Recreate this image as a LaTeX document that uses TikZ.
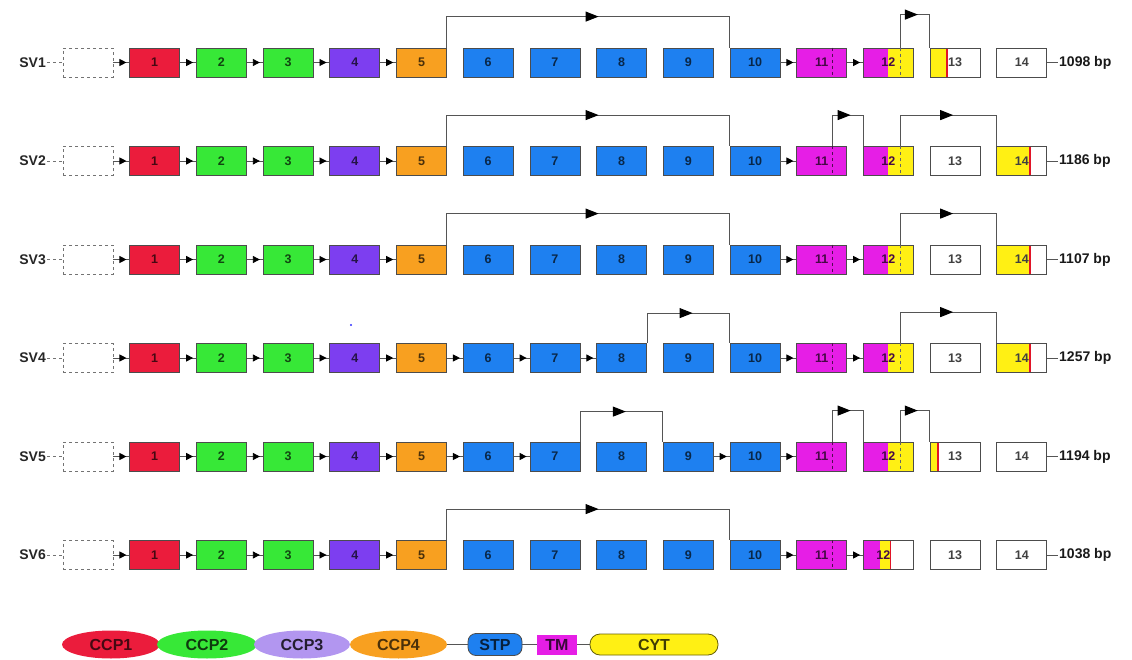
\documentclass[tikz,border=0pt]{standalone}
\usepackage{fontspec}
\setmainfont{Liberation Sans}
\usetikzlibrary{arrows.meta,decorations.markings,shapes.geometric,calc}
\definecolor{cred}{RGB}{235,28,60}
\definecolor{cgreen}{RGB}{55,232,55}
\definecolor{cpurple}{RGB}{125,62,240}
\definecolor{corange}{RGB}{248,160,32}
\definecolor{cblue}{RGB}{30,128,240}
\definecolor{cmag}{RGB}{230,30,230}
\definecolor{cyel}{RGB}{255,240,20}
\definecolor{clav}{RGB}{178,150,240}
\definecolor{cline}{RGB}{85,85,85}
\definecolor{credline}{RGB}{225,20,40}
\begin{document}
\begin{tikzpicture}[x=1pt,y=-1pt,
  exon/.style={draw=black!70, line width=0.8pt, minimum width=50pt, minimum height=29pt,
    inner sep=0pt, font=\fontsize{12.5}{12.5}\selectfont\bfseries},
  ghost/.style={draw=black!55, dashed, line width=0.8pt, minimum width=50pt, minimum height=29pt, inner sep=0pt},
  plain/.style={},
  s12a/.style={fill=cmag, text=cmag!30!black,
    path picture={\fill[cyel] ([xshift=25pt]path picture bounding box.north west) rectangle (path picture bounding box.south east);}},
  s12b/.style={fill=white, text=cmag!30!black,
    path picture={\fill[cmag] (path picture bounding box.north west) rectangle ([xshift=17pt]path picture bounding box.south west);
      \fill[cyel] ([xshift=17pt]path picture bounding box.north west) rectangle ([xshift=27pt]path picture bounding box.south west);
      \fill[credline] ([xshift=26.2pt]path picture bounding box.north west) rectangle ([xshift=27.8pt]path picture bounding box.south west);}},
  yelleft/.style={path picture={\fill[cyel] (path picture bounding box.north west) rectangle ([xshift=#1]path picture bounding box.south west);
      \fill[credline] ([xshift=#1-0.8pt]path picture bounding box.north west) rectangle ([xshift=#1+0.8pt]path picture bounding box.south west);}},
  s13a/.style={yelleft=17pt},
  s13b/.style={yelleft=8pt},
  s14a/.style={yelleft=33pt},
  conn/.style={draw=cline, line width=0.9pt, postaction={decorate},
    decoration={markings, mark=at position 0.82 with {\arrow[black]{Triangle[length=7pt,width=7pt]}}}},
  skipline/.style={draw=cline, line width=1pt, postaction={decorate},
    decoration={markings, mark=at position 0.53 with {\arrow[black]{Triangle[length=13pt,width=10pt]}}}},
  svlab/.style={font=\fontsize{14}{14}\selectfont\bfseries, inner sep=1pt, text=black!85},
  bplab/.style={font=\fontsize{14}{14}\selectfont\bfseries, inner sep=1pt, text=black!90},
  inner/.style={dashed, draw=black!60, line width=0.8pt},
  leg/.style={inner sep=0pt, font=\fontsize{16}{16}\selectfont\bfseries},
  legline/.style={draw=cline, line width=1pt}
]
\useasboundingbox (0,0) rectangle (1132,660);

\foreach \r/\y/\bp/\sA/\sB/\sC in {1/62.5/1098/s12a/s13a/plain, 2/161/1186/s12a/plain/s14a,
  3/259.5/1107/s12a/plain/s14a, 4/358/1257/s12a/plain/s14a, 5/456.5/1194/s12a/s13b/plain,
  6/555/1038/s12b/plain/plain} {
  \node[ghost] (r\r-0) at (88,\y) {};
  \node[svlab, anchor=east] (r\r-sv) at (47,\y) {SV\r};
  \draw[dashed, draw=black!55, line width=0.8pt] (r\r-sv.east) -- (r\r-0.west);
  \foreach \i/\c in {1/cred,2/cgreen,3/cgreen,4/cpurple,5/corange,6/cblue,7/cblue,8/cblue,9/cblue,10/cblue,11/cmag} {
    \node[exon, fill=\c, text=\c!30!black] (r\r-\i) at ({88+66.7*\i},\y) {\i};
  }
  \node[exon, \sA] (r\r-12) at ({88+66.7*12},\y) {};
  \node[exon, fill=white, text=black!75, \sB] (r\r-13) at ({88+66.7*13},\y) {13};
  \node[exon, fill=white, text=black!75, \sC] (r\r-14) at ({88+66.7*14},\y) {14};
  \node[bplab, anchor=west] (r\r-bp) at (1058,\y) {\bp\ bp};
  \draw[draw=cline, line width=0.9pt] (r\r-14.east) -- (r\r-bp.west);
  \coordinate (r\r-11d) at ([xshift=11pt]r\r-11.north);
  \draw[inner, draw=cmag!35!black] (r\r-11d) -- ([xshift=11pt]r\r-11.south);
  \foreach \a/\b in {0/1,1/2,2/3,3/4,4/5,10/11} {
    \draw[conn] (r\r-\a.east) -- (r\r-\b.west);
  }
}
% labels of box 12
\foreach \r in {1,...,5} {
  \node[font=\fontsize{12.5}{12.5}\selectfont\bfseries, text=cmag!30!black, inner sep=0pt] (r\r-12t) at (r\r-12.center) {12};
  \coordinate (r\r-12d) at ([xshift=12pt]r\r-12.north);
  \draw[inner, draw=black!60] (r\r-12d) -- ([xshift=12pt]r\r-12.south);
}
\node[font=\fontsize{12.5}{12.5}\selectfont\bfseries, text=cmag!30!black, inner sep=0pt] (r6-12t) at ([xshift=-5pt]r6-12.center) {12};

% SV1
\draw[skipline] (r1-5.north east) -- ++(0,-31) -| (r1-10.north west);
\draw[conn] (r1-11.east) -- (r1-12.west);
\draw[skipline] (r1-12d) -- ++(0,-33) -| (r1-13.north west);
% SV2
\draw[skipline] (r2-5.north east) -- ++(0,-31) -| (r2-10.north west);
\draw[skipline] (r2-11d) -- ++(0,-31) -| (r2-12.north west);
\draw[skipline] (r2-12d) -- ++(0,-31) -| (r2-14.north west);
% SV3
\draw[skipline] (r3-5.north east) -- ++(0,-31) -| (r3-10.north west);
\draw[conn] (r3-11.east) -- (r3-12.west);
\draw[skipline] (r3-12d) -- ++(0,-31) -| (r3-14.north west);
% SV4
\foreach \a/\b in {5/6,6/7,7/8} {\draw[conn] (r4-\a.east) -- (r4-\b.west);}
\draw[skipline] (r4-8.north east) -- ++(0,-30) -| (r4-10.north west);
\draw[conn] (r4-11.east) -- (r4-12.west);
\draw[skipline] (r4-12d) -- ++(0,-31) -| (r4-14.north west);
% SV5
\foreach \a/\b in {5/6,6/7,9/10} {\draw[conn] (r5-\a.east) -- (r5-\b.west);}
\draw[skipline] (r5-7.north east) -- ++(0,-30) -| (r5-9.north west);
\draw[skipline] (r5-11d) -- ++(0,-31) -| (r5-12.north west);
\draw[skipline] (r5-12d) -- ++(0,-31) -| (r5-13.north west);
% SV6
\draw[skipline] (r6-5.north east) -- ++(0,-31) -| (r6-10.north west);
\draw[conn] (r6-11.east) -- (r6-12.west);

% stray dot
\fill[blue!80] (351,325) circle (1.2pt);

% legend
\node[leg, ellipse, fill=cred, text=cred!30!black, minimum width=98pt, minimum height=28pt] (ccp1) at (111,644.5) {CCP1};
\node[leg, ellipse, fill=cgreen, text=cgreen!25!black, minimum width=100pt, minimum height=28pt] (ccp2) at (207,644.5) {CCP2};
\node[leg, ellipse, fill=clav, text=clav!20!black, minimum width=96pt, minimum height=28pt] (ccp3) at (302,644.5) {CCP3};
\node[leg, ellipse, fill=corange, text=corange!30!black, minimum width=97pt, minimum height=28pt] (ccp4) at (398.5,644.5) {CCP4};
\node[leg, draw=black!70, line width=0.8pt, rounded corners=8pt, fill=cblue, text=cblue!25!black, minimum width=54pt, minimum height=22pt] (stp) at (495,644.5) {STP};
\node[leg, fill=cmag, text=cmag!25!black, minimum width=40pt, minimum height=20pt] (tm) at (557,644.5) {TM};
\node[leg, draw=black!60!cyel, line width=0.8pt, rounded corners=10pt, fill=cyel, text=cyel!25!black, minimum width=128pt, minimum height=21pt] (cyt) at (654,644.5) {CYT};
\draw[legline] (ccp4.east) -- (stp.west);
\draw[legline] (stp.east) -- (tm.west);
\draw[legline] (tm.east) -- (cyt.west);
\end{tikzpicture}
\end{document}
